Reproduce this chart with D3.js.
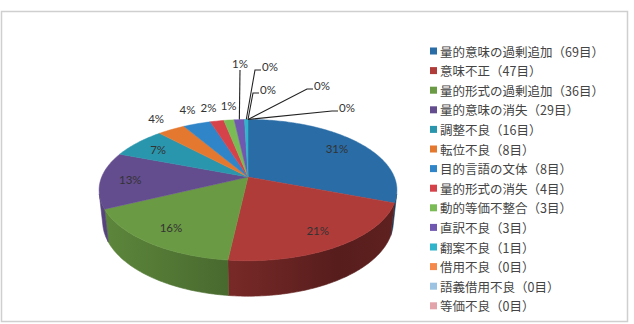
<!DOCTYPE html>
<html>
<head>
<meta charset="utf-8">
<script src="https://cdn.jsdelivr.net/npm/d3@7"></script>
<style>
  body { margin: 0; background: #fff; }
  svg { display: block; }
</style>
</head>
<body>
<div id="chart"></div>
<script>
// data
const categories = ["量的意味の過剰追加", "意味不正", "量的形式の過剰追加", "量的意味の消失",
    "調整不良", "転位不良", "目的言語の文体", "量的形式の消失", "動的等価不整合",
    "直訳不良", "翻案不良", "借用不良", "語義借用不良", "等価不良"];
const counts = [69, 47, 36, 29, 16, 8, 8, 4, 3, 3, 1, 0, 0, 0];
const colors = ["#2a6ca6", "#b03c3a", "#6b9a44", "#634d8f", "#2a96ad", "#e5782f", "#2f85c8",
    "#d6424a", "#7abb55", "#7058b0", "#2fb4cc", "#f5894b", "#9cc3e2", "#e3a3aa"];

const W = 634, H = 324;
const svg = d3.select("#chart").append("svg")
    .attr("width", W)
    .attr("height", H);

// frame
svg.append("rect")
    .attr("x", 1.5).attr("y", 11.5)
    .attr("width", 626).attr("height", 310)
    .attr("fill", "#fff")
    .attr("stroke", "#cfcfcf")
    .attr("stroke-width", 1.5);

// 3D projection of a tilted disc (Excel style perspective)
const P = { cx: 248, cy: 177, k: 698, D: 4.77, s: 0.466, c: 0.885, h: 0.245 };
function proj(theta, r, y) {
    const X = r * Math.sin(theta), Z = r * Math.cos(theta);
    const v = Z * P.s + y * P.c;
    const w = P.D + Z * P.c - y * P.s;
    return [P.cx + P.k * X / w, P.cy - P.k * v / w];
}
function arcPts(a0, a1, r, y) {
    const n = Math.max(2, Math.ceil((a1 - a0) / (Math.PI / 180)));
    return d3.range(n + 1).map(i => proj(a0 + (a1 - a0) * i / n, r, y));
}

const total = d3.sum(counts);
const pie = d3.pie().sort(null).value(d => d)(counts);
const line = d3.line();

// wall gradients
const defs = svg.append("defs");
colors.forEach((c, i) => {
    const g = defs.append("linearGradient")
        .attr("id", "wall" + i)
        .attr("gradientUnits", "userSpaceOnUse")
        .attr("x1", P.cx - 150).attr("x2", P.cx + 150)
        .attr("y1", 0).attr("y2", 0);
    [[0, 0.35], [0.45, 1.1], [0.8, 2.0], [1, 1.7]].forEach(([o, k]) => {
        g.append("stop").attr("offset", o).attr("stop-color", d3.color(c).darker(k));
    });
});

// visible part of the outer wall
const vis0 = Math.acos(-1 / (P.D * P.c)), vis1 = 2 * Math.PI - vis0;
const gPie = svg.append("g");
pie.forEach((d, i) => {
    const a0 = Math.max(d.startAngle, vis0), a1 = Math.min(d.endAngle, vis1);
    if (a1 <= a0) return;
    const pts = arcPts(a0, a1, 1, 0).concat(arcPts(a0, a1, 1, -P.h).reverse());
    gPie.append("path")
        .attr("d", line(pts) + "Z")
        .attr("fill", `url(#wall${i})`)
        .attr("stroke", `url(#wall${i})`)
        .attr("stroke-width", 0.6);
});

// top faces
pie.forEach((d, i) => {
    if (d.endAngle - d.startAngle <= 0) return;
    const pts = [proj(0, 0, 0)].concat(arcPts(d.startAngle, d.endAngle, 1, 0));
    gPie.append("path")
        .attr("d", line(pts) + "Z")
        .attr("fill", colors[i])
        .attr("stroke", colors[i])
        .attr("stroke-width", 0.5);
});

// percentage labels
const pct = v => Math.round(v / total * 100) + "%";
const gLab = svg.append("g")
    .attr("font-family", "Lato, 'Open Sans', sans-serif")
    .attr("font-size", "11.5px")
    .attr("fill", "#333");

// slices with a leader line
const leaders = { 9: [240, 63, "up"], 10: [262, 66], 11: [260, 89], 12: [314, 85], 13: [339, 107] };
// small nudges for the outside labels so they do not collide
const nudge = { 5: [-1, -2], 6: [0, -5], 7: [-3, -3], 8: [3, -4] };

pie.forEach((d, i) => {
    const mid = (d.startAngle + d.endAngle) / 2;
    if (leaders[i]) {
        const [tx, ty, mode] = leaders[i];
        const p0 = proj(mid, 1, 0);
        const pts = mode === "up" ? [p0, [tx, ty + 7]] : [p0, [tx - 7, ty + 4], [tx - 1, ty + 4]];
        gLab.append("path")
            .attr("d", line(pts))
            .attr("fill", "none")
            .attr("stroke", "#222")
            .attr("stroke-width", 1.1);
        gLab.append("text")
            .attr("x", tx).attr("y", ty)
            .attr("text-anchor", mode === "up" ? "middle" : "start")
            .attr("dominant-baseline", "central")
            .text(pct(d.value));
        return;
    }
    const inside = d.value / total >= 0.05;
    const p = inside ? proj(mid, 0.8, 0) : proj(mid, 1.22, 0);
    const [dx, dy] = nudge[i] || [0, 0];
    gLab.append("text")
        .attr("x", p[0] + dx).attr("y", p[1] + dy)
        .attr("text-anchor", "middle")
        .attr("dominant-baseline", "central")
        .text(pct(d.value));
});

// legend
const legend = svg.append("g")
    .attr("transform", "translate(430,51)");
const rows = legend.selectAll("g")
    .data(categories)
    .enter().append("g")
    .attr("transform", (d, i) => `translate(0,${i * 19.6})`);
rows.append("rect")
    .attr("x", 0).attr("y", -3.5)
    .attr("width", 7).attr("height", 7)
    .attr("fill", (d, i) => colors[i]);
rows.append("text")
    .attr("x", 10)
    .attr("dominant-baseline", "central")
    .attr("font-family", "'Noto Sans CJK JP', sans-serif")
    .attr("font-size", "12.5px")
    .attr("fill", "#444")
    .text((d, i) => `${d}（${counts[i]}目）`);
</script>
</body>
</html>
